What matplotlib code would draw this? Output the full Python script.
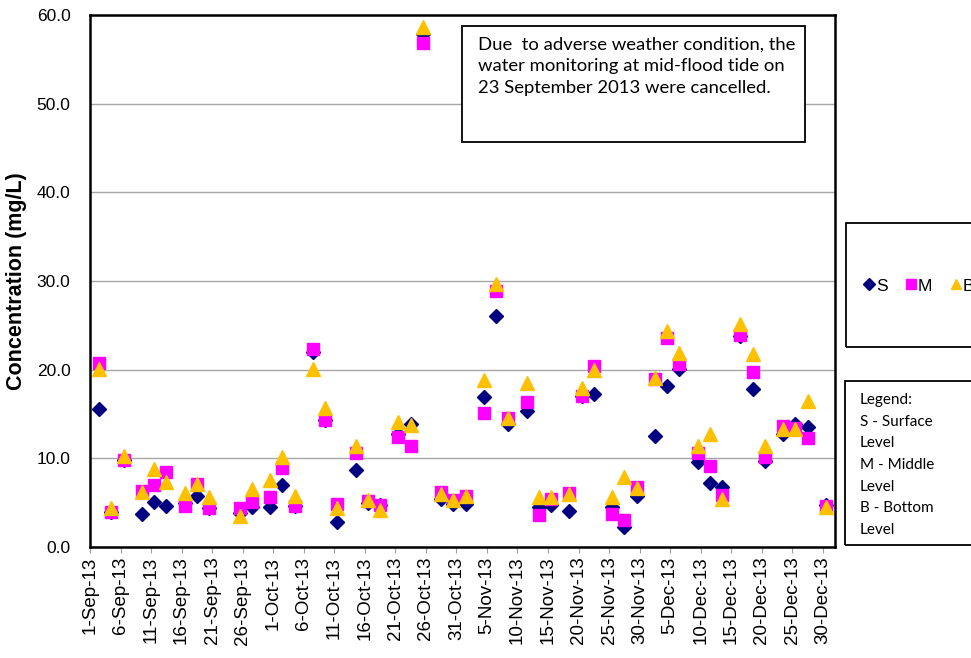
import pandas as pd
import matplotlib
matplotlib.use("Agg")
import matplotlib.pyplot as plt
from matplotlib.patches import Rectangle

plt.rcParams['font.family'] = ['Liberation Sans', 'DejaVu Sans']

# sampling dates and concentrations (mg/L) at surface / middle / bottom
dates = ['2013-09-02', '2013-09-04', '2013-09-06', '2013-09-09', '2013-09-11', '2013-09-13',
         '2013-09-16', '2013-09-18', '2013-09-20', '2013-09-25', '2013-09-27', '2013-09-30',
         '2013-10-02', '2013-10-04', '2013-10-07', '2013-10-09', '2013-10-11', '2013-10-14',
         '2013-10-16', '2013-10-18', '2013-10-21', '2013-10-23', '2013-10-25', '2013-10-28',
         '2013-10-30', '2013-11-01', '2013-11-04', '2013-11-06', '2013-11-08', '2013-11-11',
         '2013-11-13', '2013-11-15', '2013-11-18', '2013-11-20', '2013-11-22', '2013-11-25',
         '2013-11-27', '2013-11-29', '2013-12-02', '2013-12-04', '2013-12-06', '2013-12-09',
         '2013-12-11', '2013-12-13', '2013-12-16', '2013-12-18', '2013-12-20', '2013-12-23',
         '2013-12-25', '2013-12-27', '2013-12-30']
surface = [15.6, 4.0, 9.8, 3.7, 5.1, 4.6, 5.0, 5.8, 4.4, 3.8, 4.5, 4.5, 7.0, 4.6, 22.0, 14.3,
           2.8, 8.7, 5.0, 4.7, 12.7, 13.9, 57.9, 5.4, 4.8, 4.8, 16.9, 26.0, 13.9, 15.3, 4.5,
           4.7, 4.1, 17.0, 17.2, 4.5, 2.2, 5.7, 12.5, 18.2, 20.1, 9.6, 7.2, 6.8, 23.8, 17.8,
           9.7, 12.7, 13.9, 13.5, 4.7]
middle = [20.7, 4.0, 9.8, 6.3, 7.0, 8.5, 4.6, 7.1, 4.4, 4.4, 5.1, 5.6, 8.9, 4.6, 22.3, 14.3,
          4.8, 10.6, 5.2, 4.7, 12.4, 11.4, 56.8, 6.2, 5.3, 5.8, 15.1, 28.9, 14.6, 16.4, 3.6,
          5.4, 6.1, 17.0, 20.4, 3.7, 3.0, 6.8, 18.9, 23.6, 20.6, 10.6, 9.1, 5.9, 23.9, 19.7,
          10.2, 13.6, 13.4, 12.3, 4.6]
bottom = [20.1, 4.4, 10.3, 6.2, 8.8, 7.3, 6.1, 7.1, 5.6, 3.5, 6.5, 7.6, 10.2, 5.8, 20.1, 15.7,
          4.4, 11.4, 5.3, 4.2, 14.1, 13.8, 58.6, 6.0, 5.3, 5.8, 18.8, 29.7, 14.6, 18.5, 5.6,
          5.6, 6.0, 17.9, 20.0, 5.6, 7.9, 6.7, 19.1, 24.4, 21.9, 11.4, 12.7, 5.4, 25.1, 21.8,
          11.4, 13.3, 13.3, 16.5, 4.5]

note = ("Due  to adverse weather condition, the\n"
        "water monitoring at mid-flood tide on\n"
        "23 September 2013 were cancelled.")
legend_text = "Legend:\nS - Surface\nLevel\nM - Middle\nLevel\nB - Bottom\nLevel"

# Excel date axis: each day sits in the middle of its slot
x = pd.to_datetime(dates) + pd.Timedelta(hours=12)
ticks = pd.date_range('2013-09-01', '2013-12-30', freq='5D')

fig = plt.figure(figsize=(9.71, 6.58), dpi=100)
ax = fig.add_axes([0.0927, 0.1687, 0.7673, 0.8085])

ax.plot(x, surface, 'D', color='#000080', ms=7.5, label='S', zorder=3)
ax.plot(x, middle, 's', color='#FF00FF', ms=9, label='M', zorder=4)
ax.plot(x, bottom, '^', color='#FFC000', ms=9.5, label='B', zorder=5)

ax.set_xlim(pd.Timestamp('2013-09-01'), pd.Timestamp('2014-01-01'))
ax.set_ylim(0, 60)
ax.set_yticks(range(0, 61, 10))
ax.set_yticklabels([f"{v:.1f}" for v in range(0, 61, 10)], fontsize=12.5)
ax.set_xticks(ticks)
ax.set_xticklabels([f"{d.day}-{d:%b-%y}" for d in ticks], rotation=90, fontsize=13.5)
ax.tick_params(axis='y', length=0, pad=14)
ax.tick_params(axis='x', length=4, color='#a0a0a0', pad=3)
ax.yaxis.grid(True, color='#a6a6a6', lw=1)
ax.set_axisbelow(True)
for s in ax.spines.values():
    s.set_linewidth(1.8)
    s.set_color('black')
ax.set_ylabel('Concentration (mg/L)', fontsize=15.5, fontweight='bold', labelpad=7)

# note box
fig.patches.append(Rectangle((462 / 971, 1 - 142 / 658), 343 / 971, 116 / 658,
                             transform=fig.transFigure, fill=True, fc='white',
                             ec='black', lw=1.3, zorder=6))
fig.text(478 / 971, 1 - 37 / 658, note, family=['Lato', 'DejaVu Sans'], fontsize=13.3,
         va='top', ha='left', linespacing=1.42, zorder=7)

# series legend box (runs off the right edge)
fig.patches.append(Rectangle((846 / 971, 1 - 347 / 658), 200 / 971, 124 / 658,
                             transform=fig.transFigure, fill=False, ec='black', lw=1.3))
leg = fig.legend(loc='center left', bbox_to_anchor=(848 / 971, 1 - 286 / 658), ncol=3,
                 frameon=False, fontsize=12.5, handlelength=0.6, handletextpad=0.1,
                 columnspacing=1.05, markerscale=0.8)

# text legend box
fig.patches.append(Rectangle((845 / 971, 1 - 545 / 658), 200 / 971, 164 / 658,
                             transform=fig.transFigure, fill=False, ec='black', lw=1.3))
fig.text(860 / 971, 1 - 393 / 658, legend_text, family=['Lato', 'DejaVu Sans'], fontsize=11,
         va='top', ha='left', linespacing=1.7)

fig.savefig('out.png', dpi=100)
